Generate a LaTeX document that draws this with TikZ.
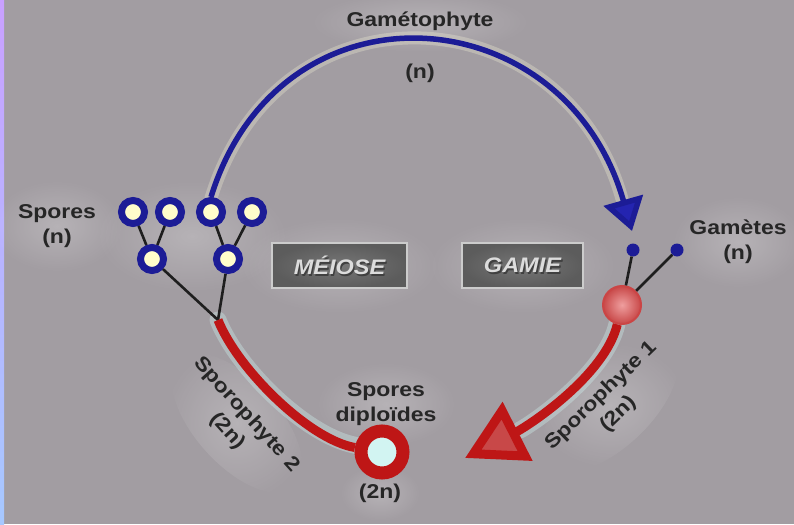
\documentclass[tikz,border=0pt]{standalone}
\usepackage{fontspec}
\usetikzlibrary{arrows.meta,fadings,shadings}
\newfontfamily\lblfont[FakeStretch=1.15]{Liberation Sans}
\newfontfamily\boxfont[FakeStretch=1.12]{Liberation Sans}
\definecolor{bgcol}{HTML}{A29DA2}
\definecolor{stripA}{HTML}{C9A0FF}
\definecolor{stripB}{HTML}{A6C8FF}
\definecolor{bluecol}{HTML}{1C1C96}
\definecolor{bluetip}{HTML}{2424B0}
\definecolor{redcol}{HTML}{BE1616}
\definecolor{redtip}{HTML}{C84848}
\definecolor{sporefill}{HTML}{FFFCCB}
\definecolor{stalk}{HTML}{1E1E1E}
\definecolor{glowY}{HTML}{F6F4DA}
\definecolor{glowC}{HTML}{D2F4F2}
\definecolor{boxdark}{HTML}{5C5C5C}
\definecolor{boxmid}{HTML}{767676}
\definecolor{boxtext}{HTML}{DCDCDC}
\tikzfading[name=fuzzyglow, inner color=transparent!0, outer color=transparent!100]
\tikzset{
  lbl/.style={font=\lblfont\bfseries\fontsize{20}{25}\selectfont, text=black!85, align=center, inner sep=0pt},
  spore/.style={circle, draw=bluecol, line width=7pt, fill=sporefill, minimum size=23pt, inner sep=0pt},
  gamete/.style={circle, fill=bluecol, minimum size=13pt, inner sep=0pt},
  zygote/.style={circle, draw=redcol!80!white, line width=2pt, inner color=red!20!white!75!redcol, outer color=redtip, minimum size=38pt, inner sep=0pt},
  diplo/.style={circle, draw=redcol, line width=13pt, fill=glowC, minimum size=42pt, inner sep=0pt},
  stalkline/.style={draw=stalk, line width=2.6pt},
  bluearc/.style={draw=bluecol, line width=5.5pt},
  redarc/.style={draw=redcol, line width=9pt},
  haloY/.style={draw=glowY, line width=#1, draw opacity=0.3, line cap=round},
  haloC/.style={draw=glowC, line width=#1, draw opacity=0.35, line cap=round},
  softglow/.style={fill=white, fill opacity=0.22, path fading=fuzzyglow},
  phasebox/.style={rectangle, draw=black!20, line width=1.5pt, inner color=boxmid, outer color=boxdark, minimum height=45pt, inner sep=0pt},
  boxlbl/.style={font=\boxfont\bfseries\itshape\fontsize{21}{22}\selectfont, inner sep=0pt},
}
\begin{document}
\begin{tikzpicture}[x=1pt, y=1pt]
% canvas and coloured left edge
\fill[bgcol] (0,0) rectangle (794,-524);
\shade[top color=stripA, bottom color=stripB] (0,0) rectangle (4,-524);
\useasboundingbox (0,0) rectangle (794,-524);

% soft light halos behind labels and boxes
\fill[softglow] (420,-22) ellipse (110 and 30);
\fill[softglow] (57,-226) ellipse (66 and 46);
\fill[softglow] (738,-242) ellipse (66 and 46);
\fill[softglow] (386,-404) ellipse (70 and 42);
\fill[softglow] (380,-493) ellipse (40 and 28);
\fill[softglow] (339.5,-265.5) ellipse (100 and 48);
\fill[softglow] (522.5,-265.5) ellipse (94 and 48);
\fill[softglow] (192,-236) ellipse (96 and 56);
\fill[softglow, rotate around={-48:(237,-423)}] (237,-423) ellipse (86 and 42);
\fill[softglow, rotate around={44:(610,-405)}] (610,-405) ellipse (86 and 42);

% anchor points
\coordinate (j) at (218,-320);
\coordinate (bt) at (632,-231);
\coordinate (rt) at (465,-458);

% thin glow along the cycle arcs
\draw[haloY=13pt] (211,-198) .. controls (280,26) and (565,5) .. (622,-199);
\draw[haloC=17pt] (j) .. controls (238,-370) and (310,-440) .. (360,-446);
\draw[haloC=17pt] (617,-324) .. controls (605,-375) and (530,-425) .. (520,-430);

% haploid spores (n)
\node[spore] (s1) at (133,-212) {};
\node[spore] (s2) at (170,-212) {};
\node[spore] (s3) at (211,-212) {};
\node[spore] (s4) at (252,-212) {};
\node[spore] (t1) at (152,-259) {};
\node[spore] (t2) at (228,-259) {};
\draw[stalkline] (s1) -- (t1);
\draw[stalkline] (s2) -- (t1);
\draw[stalkline] (s3) -- (t2);
\draw[stalkline] (s4) -- (t2);
\draw[stalkline] (t1) -- (j);
\draw[stalkline] (t2) -- (j);

% gametophyte (n): blue arc from a spore to the gametes
\draw[bluearc, -{Triangle[length=32pt, width=40pt, fill=bluetip]}]
  (s3.north) .. controls (280,26) and (565,5) .. (bt);

% gametes and zygote
\node[zygote] (zg) at (622,-305) {};
\node[gamete] (g1) at (633,-250) {};
\node[gamete] (g2) at (677,-250) {};
\draw[stalkline] (zg) -- (g1);
\draw[stalkline] (zg) -- (g2);

% sporophyte 1 (2n)
\draw[redarc, -{Triangle[length=59pt, width=64pt, fill=redtip]}]
  (zg) .. controls (605,-375) and (530,-425) .. (rt);

% sporophyte 2 (2n) ending at the diploid spore
\node[diplo] (dip) at (382,-452) {};
\draw[redarc] (j) .. controls (238,-370) and (310,-440) .. (dip);

% phase boxes
\node[phasebox, minimum width=135pt] (mei) at (339.5,-265.5) {};
\node[phasebox, minimum width=121pt] (gam) at (522.5,-265.5) {};
\node[boxlbl, text=black!75] at ([shift={(1.4,-1.4)}]mei.center) {MÉIOSE};
\node[boxlbl, text=boxtext] (meit) at (mei.center) {MÉIOSE};
\node[boxlbl, text=black!75] at ([shift={(1.4,-1.4)}]gam.center) {GAMIE};
\node[boxlbl, text=boxtext] (gamt) at (gam.center) {GAMIE};

% labels
\node[lbl] (lgam) at (420,-21) {Gamétophyte};
\node[lbl] (lgn) at (420,-73) {(n)};
\node[lbl] (lspo) at (57,-226) {Spores\\(n)};
\node[lbl] (lgmt) at (738,-242) {Gamètes\\(n)};
\node[lbl] (ldip) at (386,-404) {Spores\\diploïdes};
\node[lbl] (ldipn) at (380,-493) {(2n)};
\node[lbl, rotate=-48] (lsp2) at (237,-423) {Sporophyte 2\\(2n)};
\node[lbl, rotate=44] (lsp1) at (610,-405) {Sporophyte 1\\(2n)};
\end{tikzpicture}
\end{document}
